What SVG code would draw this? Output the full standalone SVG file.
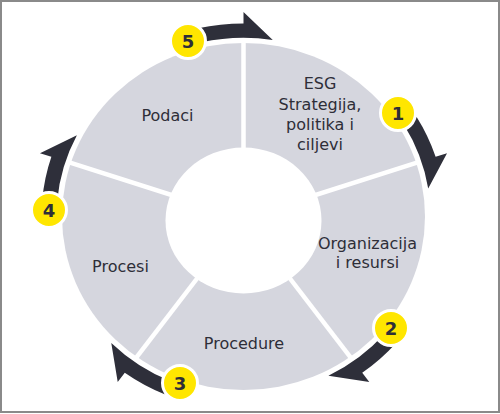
<svg xmlns="http://www.w3.org/2000/svg" xmlns:xlink="http://www.w3.org/1999/xlink" width="500" height="414" viewBox="0 0 500 414">
<style>
.seg{fill:#d5d6de}
.div{stroke:#ffffff;stroke-width:4.5}
.arr{fill:#2e2f3a}
.badge{fill:#ffe600;stroke:#ffffff;stroke-width:3}
.num{font-family:"DejaVu Sans",sans-serif;font-weight:bold;font-size:18px;fill:#2e2e38;text-anchor:middle}
.lbl{font-family:"DejaVu Sans",sans-serif;font-size:16px;fill:#2e2e38;text-anchor:middle}
</style>
<defs>
<path id="arrow" d="M182.21,-42.07 L196.82,-45.44 A202,202 0 0 1 202,0 L214,0 L184.70,29.25 A187,187 0 0 0 182.21,-42.07 Z"/>
</defs>
<rect x="0" y="0" width="500" height="414" fill="#ffffff"/>
<rect x="1" y="1" width="498" height="411" fill="none" stroke="#8a8a8a" stroke-width="2"/>
<g id="ring">
<ellipse class="seg" cx="243.5" cy="216.5" rx="181.5" ry="173.5"/>
<line class="div" x1="243.5" y1="218" x2="243.5" y2="40.6"/>
<line class="div" x1="243.5" y1="218" x2="418.5" y2="162.1"/>
<line class="div" x1="243.5" y1="218" x2="351.7" y2="358.8"/>
<line class="div" x1="243.5" y1="218" x2="135.3" y2="358.8"/>
<line class="div" x1="243.5" y1="218" x2="68.5" y2="162.1"/>
<ellipse cx="243.5" cy="220.5" rx="78" ry="73" fill="#ffffff"/>
</g>
<g id="seg-esg"><text class="lbl" x="320" y="89">ESG</text><text class="lbl" x="320" y="110">Strategija,</text><text class="lbl" x="320" y="130">politika i</text><text class="lbl" x="320" y="150">ciljevi</text></g>
<g id="seg-org"><text class="lbl" x="367.5" y="249">Organizacija</text><text class="lbl" x="367.5" y="268">i resursi</text></g>
<g id="seg-proc"><text class="lbl" x="244" y="349">Procedure</text></g>
<g id="seg-procesi"><text class="lbl" x="120.5" y="272">Procesi</text></g>
<g id="seg-podaci"><text class="lbl" x="167.5" y="121">Podaci</text></g>
<g id="connectors" transform="translate(243.5,216.5) scale(1,0.956)">
<use class="arr" xlink:href="#arrow" href="#arrow" transform="rotate(-90)"/>
<use class="arr" xlink:href="#arrow" href="#arrow" transform="rotate(-18)"/>
<use class="arr" xlink:href="#arrow" href="#arrow" transform="rotate(54)"/>
<use class="arr" xlink:href="#arrow" href="#arrow" transform="rotate(126)"/>
<use class="arr" xlink:href="#arrow" href="#arrow" transform="rotate(198)"/>
</g>
<g id="badge1"><circle class="badge" cx="398" cy="113" r="17.5"/><text class="num" x="398" y="119.5">1</text></g>
<g id="badge2"><circle class="badge" cx="391" cy="328" r="17.5"/><text class="num" x="391" y="334.5">2</text></g>
<g id="badge3"><circle class="badge" cx="180" cy="383" r="17.5"/><text class="num" x="180" y="389.5">3</text></g>
<g id="badge4"><circle class="badge" cx="49" cy="210" r="17.5"/><text class="num" x="49" y="216.5">4</text></g>
<g id="badge5"><circle class="badge" cx="188" cy="41" r="17.5"/><text class="num" x="188" y="47.5">5</text></g>
</svg>
